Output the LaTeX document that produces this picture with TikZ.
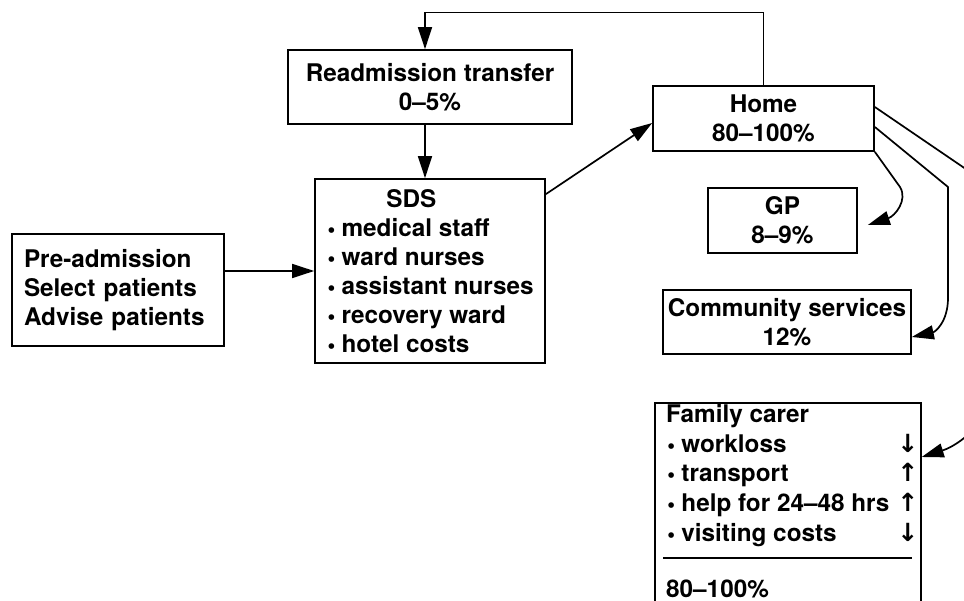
\documentclass[tikz,border=0pt]{standalone}
\usepackage{fontspec}
\setmainfont{TeX Gyre Heros}
\newfontfamily\arrfont{DejaVu Sans}
\newcommand{\bul}{{\arrfont\fontsize{16}{16}\selectfont •}\hspace{5pt}}
\newcommand{\arrup}{{\arrfont\fontsize{25}{29}\selectfont ↑}}
\newcommand{\arrdn}{{\arrfont\fontsize{25}{29}\selectfont ↓}}
\newcommand{\famline}[2]{\makebox[252pt][l]{#1\hfill#2}}
\usetikzlibrary{arrows.meta,calc}
\begin{document}
\begin{tikzpicture}[x=1pt,y=-1pt,
  every node/.style={font=\fontsize{24.3}{29}\selectfont\bfseries},
  box/.style={draw, line width=1.7pt, inner sep=0pt, align=center},
  arr/.style={line width=1.7pt, -{Triangle[length=22pt,width=14pt]}},
  rule/.style={line width=1.4pt}]
\useasboundingbox (0,0) rectangle (964,601);
\clip (0,0) rectangle (964,601);
\fill[white] (0,0) rectangle (964,601);

\node[box, minimum width=284pt, minimum height=74pt] (readm) at (430,87) {Readmission transfer\\0–5\%};
\node[box, minimum width=221pt, minimum height=65pt] (home) at (763.5,118.5) {Home\\80–100\%};
\node[box, minimum width=149pt, minimum height=65pt] (gp) at (782.5,220.5) {GP\\8–9\%};
\node[box, minimum width=248pt, minimum height=64pt] (cs) at (787,322) {Community services\\12\%};
\node[box, minimum width=212pt, minimum height=112pt, align=left, text width=188pt] (pre) at (118,290) {Pre-admission\\Select patients\\Advise patients};
\node[box, minimum width=230pt, minimum height=184pt, align=left] (sds) at (430,271)
  {\hspace*{60pt}SDS\\\bul medical staff\\\bul ward nurses\\\bul assistant nurses\\\bul recovery ward\\\bul hotel costs};

\node[draw, line width=1.7pt, minimum width=266pt, minimum height=260pt, anchor=north west, inner sep=0pt] (fam) at (654,402) {};
\node[anchor=north west, align=left, inner sep=0pt, font=\fontsize{24.3}{29.7}\selectfont\bfseries] (famtext) at ([shift={(12pt,-2pt)}]fam.north west)
  {Family carer\\\famline{\bul workloss}{\arrdn}\\\famline{\bul transport}{\arrup}\\\famline{\bul help for 24–48 hrs}{\arrup}\\\famline{\bul visiting costs}{\arrdn}};
\draw[rule] (663,558) -- (912,558);
\node[anchor=west, inner sep=0pt] (famtot) at (666,589) {80–100\%};

\draw[arr] ([yshift=19pt]pre.east) -- ([yshift=19pt]pre.east -| sds.west);
\draw[arr] ([xshift=-5pt]readm.south) -- ([xshift=-5pt]sds.north);
\draw[arr] ([yshift=-16pt]sds.north east) -- ([yshift=-4.5pt]home.west);
\coordinate (lt) at (425,12.5);
\draw[arr] (home.north) |- (lt) -- (lt |- readm.north);

\draw[arr] (home.south east) -- (900,187) .. controls (908,200) and (895,216) .. ([shift={(10pt,-4.5pt)}]gp.east);
\draw[arr] ([yshift=-8.5pt]home.east) -- (948,187) -- (948,298) .. controls (948,322) and (935,332) .. ([yshift=-15pt]cs.east);
\draw[arr] ([yshift=11.5pt]home.east) -- (990,185.5) -- (990,395) .. controls (990,420) and (960,445) .. ([yshift=-55pt]fam.north east);
\end{tikzpicture}
\end{document}
